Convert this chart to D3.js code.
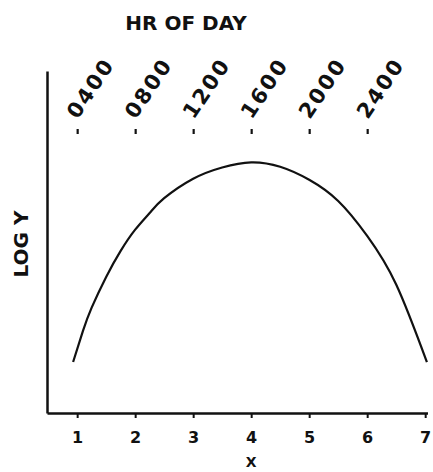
<!DOCTYPE html>
<html>
<head>
<meta charset="utf-8">
<script src="https://cdn.jsdelivr.net/npm/d3@7"></script>
<style>
  html, body { margin: 0; padding: 0; background: #fff; }
  svg { display: block; }
  text { font-family: "DejaVu Sans", sans-serif; font-weight: bold; fill: #111; }
</style>
</head>
<body>
<svg id="chart" width="433" height="472"></svg>
<script>
// ---- data ----
const xTicks = [1, 2, 3, 4, 5, 6, 7];
const hourTicks = [1, 2, 3, 4, 5, 6];
const hourLabels = ["0400", "0800", "1200", "1600", "2000", "2400"];
const curveX = [0.93, 1.1, 1.25, 1.5, 1.75, 2.0, 2.25, 2.5, 3.0, 3.5, 4.0, 4.5, 5.0, 5.5, 6.0, 6.5, 7.03];
const curveY = [1.49, 2.40, 3.08, 3.98, 4.74, 5.36, 5.85, 6.28, 6.85, 7.18, 7.33, 7.20, 6.82, 6.20, 5.18, 3.76, 1.49];
const titleText = "HR OF DAY";
const xTitle = "X";
const yTitle = "LOG Y";

// ---- scales ----
const svg = d3.select("#chart");
const x = d3.scaleLinear().domain([0.48, 7.04]).range([47, 427.5]);
const y = d3.scaleLinear().domain([0, 10]).range([413, 71]);

// ---- axes ----
const xAxis = svg.append("g")
  .attr("transform", `translate(0,${y(0)})`)
  .call(d3.axisBottom(x).tickValues(xTicks).tickFormat(d3.format("d")).tickSize(5).tickSizeOuter(0));
xAxis.select(".domain").attr("stroke", "#111").attr("stroke-width", 2.5);
xAxis.selectAll(".tick line").attr("stroke", "#111").attr("stroke-width", 2);
xAxis.selectAll(".tick text").attr("font-size", 16).attr("dy", "1.35em")
  .attr("font-family", "'DejaVu Sans', sans-serif").attr("font-weight", "bold").attr("fill", "#111");

const yAxis = svg.append("g")
  .attr("transform", `translate(${x(0.48)},0)`)
  .call(d3.axisLeft(y).tickValues([]).tickSizeOuter(0));
yAxis.select(".domain").attr("stroke", "#111").attr("stroke-width", 2.5);

const topAxis = svg.append("g")
  .attr("transform", `translate(0,134)`)
  .call(d3.axisTop(x).tickValues(hourTicks).tickFormat((d, i) => hourLabels[i]).tickSize(5).tickSizeOuter(0));
topAxis.select(".domain").remove();
topAxis.selectAll(".tick line").attr("stroke", "#111").attr("stroke-width", 2.2);
topAxis.selectAll(".tick text")
  .attr("font-size", 21)
  .attr("font-family", "'DejaVu Sans', sans-serif").attr("font-weight", "bold").attr("fill", "#111")
  .attr("letter-spacing", 2.2)
  .attr("text-anchor", "start")
  .attr("x", 0).attr("y", 0).attr("dy", "0.35em")
  .attr("transform", "translate(-6,-18) rotate(-56)");

// ---- curve ----
const pts = curveX.map((v, i) => [v, curveY[i]]);
svg.append("path")
  .datum(pts)
  .attr("fill", "none")
  .attr("stroke", "#111")
  .attr("stroke-width", 2.2)
  .attr("d", d3.line().x(d => x(d[0])).y(d => y(d[1])).curve(d3.curveNatural));

// ---- titles ----
svg.append("text").attr("x", 186).attr("y", 30).attr("text-anchor", "middle")
  .attr("font-size", 20).text(titleText);
svg.append("text").attr("x", x(4)).attr("y", 467).attr("text-anchor", "middle")
  .attr("font-size", 14).text(xTitle);
svg.append("text").attr("transform", "translate(28,244) rotate(-90)").attr("text-anchor", "middle")
  .attr("font-size", 20).text(yTitle);
</script>
</body>
</html>
